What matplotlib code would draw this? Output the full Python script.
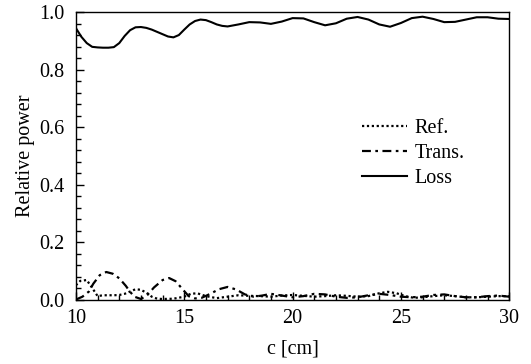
import matplotlib
matplotlib.use("Agg")
import matplotlib.pyplot as plt
from matplotlib.ticker import MultipleLocator

plt.rcParams['font.family'] = ['Liberation Serif', 'DejaVu Serif']
plt.rcParams['mathtext.fontset'] = 'stix'

# Loss curve (c in cm, relative power)
loss_c = [10.0, 10.25, 10.5, 10.75, 11.0, 11.25, 11.5, 11.75, 12.0, 12.25, 12.5,
          12.75, 13.0, 13.25, 13.5, 13.75, 14.0, 14.25, 14.5, 14.75, 15.0, 15.25,
          15.5, 15.75, 16.0, 16.25, 16.5, 16.75, 17.0, 17.5, 18.0, 18.5, 19.0,
          19.5, 20.0, 20.5, 21.0, 21.5, 22.0, 22.5, 23.0, 23.5, 24.0, 24.5, 25.0,
          25.5, 26.0, 26.5, 27.0, 27.5, 28.0, 28.5, 29.0, 29.5, 30.0]
loss_v = [0.945, 0.915, 0.893, 0.880, 0.878, 0.877, 0.877, 0.879, 0.893, 0.918, 0.938,
          0.948, 0.949, 0.946, 0.940, 0.932, 0.924, 0.916, 0.913, 0.921, 0.940, 0.958,
          0.970, 0.975, 0.973, 0.966, 0.958, 0.953, 0.951, 0.958, 0.966, 0.965, 0.960,
          0.968, 0.980, 0.979, 0.966, 0.955, 0.962, 0.978, 0.984, 0.975, 0.958, 0.950, 0.963,
          0.980, 0.985, 0.977, 0.966, 0.967, 0.975, 0.983, 0.983, 0.978, 0.977]

# Reflection (dotted)
ref_c = [10.0, 10.2, 10.5, 10.8, 11.0, 11.25, 11.5, 11.75, 12.0, 12.25, 12.5, 12.75,
         13.0, 13.25, 13.5, 13.75, 14.0, 14.5, 15.0, 15.3, 15.6, 16.0, 16.5, 17.0,
         17.5, 18.0, 18.5, 19.0, 19.5, 20.0, 20.5, 21.0, 21.5, 22.0, 22.5, 23.0,
         23.5, 24.0, 24.4, 24.8, 25.2, 25.6, 26.0, 26.5, 27.0, 27.5, 28.0, 28.5,
         29.0, 29.5, 30.0]
ref_v = [0.050, 0.065, 0.068, 0.035, 0.012, 0.015, 0.015, 0.015, 0.016, 0.020, 0.028, 0.036,
         0.034, 0.024, 0.010, 0.003, 0.002, 0.003, 0.010, 0.020, 0.022, 0.012, 0.005, 0.010,
         0.015, 0.013, 0.012, 0.010, 0.014, 0.016, 0.013, 0.010, 0.012, 0.015, 0.013, 0.010,
         0.012, 0.022, 0.027, 0.022, 0.012, 0.006, 0.008, 0.012, 0.015, 0.012, 0.008, 0.008,
         0.010, 0.012, 0.012]

# Transmission (dash-dot)
trans_c = [10.0, 10.3, 10.6, 10.8, 11.1, 11.4, 11.7, 12.0, 12.3, 12.5, 12.7, 13.0,
           13.3, 13.6, 14.0, 14.3, 14.6, 14.9, 15.2, 15.5, 15.8, 16.2, 16.6, 17.0,
           17.4, 17.8, 18.2, 18.6, 19.0, 19.5, 20.0, 20.5, 21.0, 21.5, 22.0, 22.5,
           23.0, 23.5, 24.0, 24.5, 25.0, 25.5, 26.0, 26.5, 27.0, 27.5, 28.0, 28.5,
           29.0, 29.5, 30.0]
trans_v = [0.000, 0.010, 0.028, 0.055, 0.085, 0.096, 0.090, 0.074, 0.048, 0.027, 0.010, 0.002,
           0.016, 0.042, 0.068, 0.075, 0.064, 0.038, 0.012, 0.004, 0.006, 0.020, 0.036, 0.044,
           0.035, 0.018, 0.010, 0.014, 0.020, 0.014, 0.008, 0.012, 0.020, 0.018, 0.010, 0.006,
           0.008, 0.015, 0.020, 0.016, 0.010, 0.008, 0.010, 0.016, 0.018, 0.012, 0.008, 0.008,
           0.012, 0.014, 0.010]

fig = plt.figure(figsize=(5.31, 3.64), dpi=100)
ax = fig.add_axes([0.143, 0.177, 0.816, 0.789])

ax.plot(ref_c, ref_v, color='black', lw=1.6, linestyle=(0, (1, 1.2)), label='Ref.')
ax.plot(trans_c, trans_v, color='black', lw=1.6, linestyle=(0, (4, 2, 1.2, 2)), label='Trans.')
ax.plot(loss_c, loss_v, color='black', lw=1.5, label='Loss')

ax.set_xlim(10, 30)
ax.set_ylim(0, 1.0)
ax.xaxis.set_major_locator(MultipleLocator(5))
ax.xaxis.set_minor_locator(MultipleLocator(1))
ax.yaxis.set_major_locator(MultipleLocator(0.2))
ax.yaxis.set_minor_locator(MultipleLocator(0.04))
ax.yaxis.set_major_formatter(plt.FormatStrFormatter('%.1f'))
ax.tick_params(which='both', direction='in', top=False, right=False, labelsize=14.5)
ax.tick_params(which='major', length=6, width=1)
ax.tick_params(axis='x', which='major', pad=7)
ax.tick_params(axis='y', which='major', pad=8)
ax.tick_params(which='minor', length=3.5, width=1)
for s in ax.spines.values():
    s.set_linewidth(1)

ax.set_xlabel('c [cm]', fontsize=14.5, labelpad=8)
ax.set_ylabel('Relative power', fontsize=14.5, labelpad=3)

ax.legend(loc='upper left', bbox_to_anchor=(0.66, 0.63), frameon=False,
          fontsize=14.5, handlelength=2.25, handletextpad=0.35, labelspacing=0.3,
          borderpad=0, borderaxespad=0)

fig.savefig('out.png', dpi=100)
